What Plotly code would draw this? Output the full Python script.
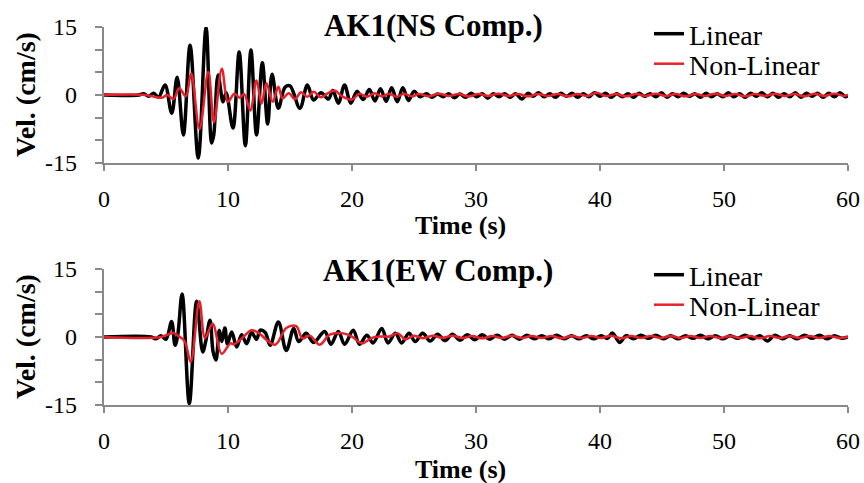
import plotly.graph_objects as go

# ---------------- data ----------------
NS_LIN_T = [0, 2.8, 3.2, 3.6, 4.0, 4.4, 4.92, 5.46, 5.9, 6.4, 6.94, 7.6, 8.23, 8.68, 8.85, 9.2, 9.6, 9.85,
            10.4, 10.9, 11.4, 11.85, 12.3, 12.77, 13.2, 13.55, 14.06, 14.6, 15.0, 15.8, 16.4, 16.9, 17.5,
            18.1, 18.45, 18.9, 19.4, 19.9, 20.4, 20.9, 21.4, 21.85, 22.3, 22.75, 23.2, 23.65, 24.1, 24.55,
            25.0, 25.5, 26.0, 26.45, 26.9, 27.35, 27.8, 28.25, 28.7, 29.15, 29.6, 30.05, 30.5, 30.95,
            31.4, 31.85, 32.3, 32.75, 33.2, 33.7, 34.2, 34.6, 35.05, 35.5, 35.95, 36.4, 36.85, 37.3,
            37.75, 38.2, 38.65, 39.1, 39.55, 40.0, 40.45, 40.9, 41.35, 41.8, 42.25, 42.7, 43.15, 43.6,
            44.05, 44.5, 44.95, 45.4, 45.85, 46.3, 46.75, 47.2, 47.65, 48.1, 48.55, 49.0, 49.45, 49.9,
            50.35, 50.8, 51.25, 51.7, 52.15, 52.6, 53.05, 53.5, 53.95, 54.4, 54.85, 55.3, 55.75, 56.2,
            56.65, 57.1, 57.55, 58.0, 58.45, 58.9, 59.35, 59.8, 60.0]
NS_LIN_V = [0, 0, 0.3, -0.3, 0.4, -0.5, 2.2, -4.0, 3.9, -8.8, 11.0, -13.9, 14.9, -10.6, -8.8, 4.4, -1.5, 0.5,
            -7.3, 9.5, -11.2, 9.9, -8.8, 7.1, -6.4, 4.6, -2.9, 1.7, 2.0, -2.9, 2.2, -1.1, 0.5,
            -0.9, 1.0, -1.8, 2.2, -1.8, 0.8, -1.0, 1.2, -1.3, 1.4, -1.4, 1.6, -1.5, 1.6, -1.2,
            0.8, -0.4, 0.3, -0.5, 0.2, -0.4, 0.3, -0.6, 0.2, -0.5, 0.4, -0.4, 0.3, -0.7,
            0.3, -0.4, 0.3, -0.5, 0.3, -0.9, 0.4, -0.3, 0.5, -0.4, 0.3, -0.5, 0.4, -0.3,
            0.4, -0.5, 0.3, -0.4, 0.5, -0.3, 0.4, -0.5, 0.3, -0.4, 0.3, -0.5, 0.4, -0.3,
            0.3, -0.4, 0.5, -0.5, 0.3, -0.4, 0.4, -0.3, 0.3, -0.5, 0.4, -0.4, 0.3, -0.4,
            0.5, -0.4, 0.3, -0.5, 0.4, -0.3, 0.5, -0.4, 0.4, -0.5, 0.3, -0.4, 0.5, -0.5,
            0.4, -0.3, 0.4, -0.5, 0.4, -0.4, 0.5, -0.4, 0.0]

NS_NL_T = [0, 3.3, 4.65, 5.1, 5.6, 6.07, 6.6, 7.03, 7.7, 8.41, 8.87, 9.5, 10.0, 10.5, 10.95, 11.3, 11.8,
           12.3, 12.7, 13.1, 13.6, 14.06, 14.4, 14.9, 15.4, 15.9, 16.4, 16.9, 17.5, 18.0, 18.6, 19.2,
           20.0, 20.6, 21.2, 21.8, 22.4, 23.0, 23.6, 24.2, 24.8, 25.4, 26.2, 27.0, 27.8, 28.6, 29.4,
           30.2, 31.0, 31.8, 32.6, 33.4, 34.2, 35.0, 35.8, 36.6, 37.4, 38.2, 39.0, 39.7, 40.5, 41.3,
           42.1, 42.9, 43.7, 44.5, 45.3, 46.1, 46.9, 47.7, 48.5, 49.3, 50.1, 50.9, 51.7, 52.5, 53.3,
           54.1, 54.9, 55.7, 56.5, 57.3, 58.1, 58.9, 59.7, 60.0]
NS_NL_V = [0, 0, -0.6, 0.0, -0.9, 1.5, -0.3, 4.8, -7.5, 5.1, -6.0, 5.8, -1.5, 0.3, -0.6, 0.2, -3.4,
           3.2, -1.9, 2.6, -1.5, 1.8, -0.8, 0.4, -0.9, 0.6, -0.4, 0.7, -0.5, 0.3, 1.0, -0.3,
           -1.0, 0.3, -0.4, 0.4, -0.3, 0.3, -0.4, 0.3, -0.3, 0.2, -0.3, 0.3, -0.2, 0.2, -0.3,
           0.2, -0.2, 0.3, -0.2, 0.2, -0.3, 0.2, -0.2, 0.2, -0.3, 0.2, -0.2, 0.5, -0.2, 0.2,
           -0.3, 0.2, -0.2, 0.3, -0.2, 0.2, -0.3, 0.2, -0.2, 0.3, -0.2, 0.2, -0.3, 0.2, -0.2,
           0.3, -0.2, 0.2, -0.3, 0.3, -0.2, 0.3, -0.2, 0.0]

EW_LIN_T = [0, 3.8, 4.2, 4.6, 5.0, 5.45, 5.73, 5.95, 6.3, 6.88, 7.47, 7.96, 8.2, 8.55, 8.8, 9.03, 9.3,
            9.5, 9.75, 9.95, 10.3, 10.7, 11.1, 11.5, 11.9, 12.3, 12.6, 13.0, 13.4, 14.06, 14.7, 15.3,
            15.7, 16.3, 16.9, 17.8, 18.3, 18.9, 19.4, 20.1, 20.6, 21.2, 21.7, 22.4, 22.9, 23.5, 24.0,
            24.6, 25.1, 25.7, 26.3, 26.9, 27.5, 28.1, 28.7, 29.3, 29.9, 30.5, 31.1, 31.7, 32.3, 32.9,
            33.5, 34.1, 34.7, 35.3, 35.9, 36.5, 37.1, 37.7, 38.3, 38.9, 39.5, 40.1, 40.6, 41.0, 41.6,
            42.1, 42.7, 43.3, 43.9, 44.5, 45.1, 45.7, 46.3, 46.9, 47.5, 48.1, 48.7, 49.3, 49.9, 50.5,
            51.1, 51.7, 52.3, 52.9, 53.5, 54.1, 54.7, 55.3, 55.9, 56.5, 57.1, 57.7, 58.3, 58.9, 59.5, 60.0]
EW_LIN_V = [0, 0, -0.4, 0.3, -0.5, 3.4, -1.8, 0.5, 9.5, -14.7, 7.9, -3.3, -1.0, 3.7, -3.3, -5.1, 1.5,
            -1.0, 2.0, -1.5, 1.1, -2.2, 0.5, -1.5, 1.0, -0.5, 1.5, 1.0, -1.8, 3.3, -3.0, 1.9,
            -1.0, 0.8, -1.2, 1.2, -1.6, 1.2, -1.6, 1.5, -1.6, 0.4, -1.3, 1.9, -1.3, 0.8, -1.3,
            0.8, -1.0, 0.8, -0.9, 0.6, -0.8, 0.6, -0.7, 0.5, -0.6, 0.5, -0.5, 0.4, -0.5, 0.4,
            -0.5, 0.4, -0.4, 0.3, -0.4, 0.4, -0.4, 0.3, -0.4, 0.3, -0.4, 0.3, -0.3, 0.9, -1.2,
            0.3, -0.4, 0.4, -0.3, 0.4, -0.4, 0.3, -0.4, 0.3, -0.3, 0.4, -0.4, 0.3, -0.4, 0.3,
            -0.3, 0.4, -0.4, 0.3, -0.9, 0.4, -0.4, 0.3, -0.4, 0.4, -0.3, 0.4, -0.4, 0.3, -0.3, 0.0]

EW_NL_T = [0, 4.6, 5.6, 6.0, 6.5, 6.99, 7.69, 8.15, 8.76, 9.49, 10.2, 10.5, 11.0, 11.9, 12.4, 13.8,
           14.7, 15.5, 16.0, 16.6, 17.4, 18.2, 19.3, 20.0, 20.8, 21.6, 22.3, 23.0, 23.7, 24.3, 25.0,
           25.7, 26.5, 27.3, 28.1, 28.9, 29.7, 30.5, 31.3, 32.1, 32.9, 33.7, 34.5, 35.3, 36.1, 36.9,
           37.7, 38.5, 39.3, 40.1, 40.9, 41.7, 42.5, 43.3, 44.1, 44.9, 45.7, 46.5, 47.3, 48.1, 48.9,
           49.7, 50.5, 51.3, 52.1, 52.9, 53.7, 54.5, 55.3, 56.1, 56.9, 57.7, 58.5, 59.3, 60.0]
EW_NL_V = [0, 0, 0.9, 0.2, -0.9, -5.5, 7.9, -0.2, 2.9, -3.7, -1.4, -1.6, -0.6, 1.5, 1.0, -1.7,
           2.0, 2.4, -0.3, 0.3, -1.7, 0.5, 0.8, 0.1, -1.4, -0.2, 0.1, 0.1, 0.8, -0.5, 0.3,
           -0.3, 0.3, -0.2, 0.3, -0.2, 0.2, -0.3, 0.2, -0.2, 0.3, -0.2, 0.2, -0.2, 0.2, -0.3,
           0.2, -0.2, 0.2, -0.2, 0.3, -0.3, 0.2, -0.2, 0.2, -0.2, 0.2, -0.2, 0.2, -0.2, 0.2,
           -0.2, 0.2, -0.2, 0.2, -0.3, 0.2, -0.2, 0.2, -0.2, 0.2, -0.2, 0.2, -0.2, 0.0]

Y_TICKS = [-15, -10, -5, 0, 5, 10, 15]
Y_LABELS = [-15, 0, 15]
X_TICKS = [0, 10, 20, 30, 40, 50, 60]
TITLES = ["AK1(NS Comp.)", "AK1(EW Comp.)"]
NAMES = ["Linear", "Non-Linear"]

# ---------------- styling ----------------
W, H = 864, 483
FONT = "Liberation Serif"
BLACK = "#000000"
RED = "#E8202A"
AX = "#898989"


def px(x):
    return x / W


def py(y):
    return 1 - y / H


fig = go.Figure()

panels = [
    (NS_LIN_T, NS_LIN_V, NS_NL_T, NS_NL_V, "x", "y", "legend", "legend2"),
    (EW_LIN_T, EW_LIN_V, EW_NL_T, EW_NL_V, "x2", "y2", "legend3", "legend4"),
]
for lt, lv, nt, nv, xa, ya, lg1, lg2 in panels:
    fig.add_trace(go.Scatter(x=lt, y=lv, mode="lines", name=NAMES[0], xaxis=xa, yaxis=ya, legend=lg1,
                             line=dict(color=BLACK, width=3.5, shape="spline", smoothing=1.0)))
    fig.add_trace(go.Scatter(x=nt, y=nv, mode="lines", name=NAMES[1], xaxis=xa, yaxis=ya, legend=lg2,
                             line=dict(color=RED, width=2.5, shape="spline", smoothing=1.0)))

xdom = [px(104), px(848)]
ydoms = [[py(163), py(27)], [py(405), py(269)]]

common_x = dict(range=[0, 60], tickvals=X_TICKS, showline=True, linecolor=AX, linewidth=2,
                ticks="outside", ticklen=6, tickwidth=2, tickcolor=AX, showgrid=False, zeroline=False,
                tickfont=dict(family=FONT, size=24, color="#000"), ticklabelstandoff=7)
common_y = dict(range=[-15, 15], tickvals=Y_TICKS, showticklabels=False, showline=True, linecolor=AX,
                linewidth=2, ticks="outside", ticklen=7, tickwidth=2, tickcolor=AX, showgrid=False,
                zeroline=False)


def leg(yline):
    return dict(x=px(649), y=py(yline), xanchor="left", yanchor="middle", bgcolor="rgba(0,0,0,0)",
                font=dict(family=FONT, size=28, color="#000"), itemwidth=30, borderwidth=0)


fig.update_layout(
    width=W, height=H, margin=dict(l=0, r=0, t=0, b=0, autoexpand=False),
    paper_bgcolor="white", plot_bgcolor="white",
    xaxis=dict(domain=xdom, anchor="y", **common_x),
    yaxis=dict(domain=ydoms[0], anchor="x", **common_y),
    xaxis2=dict(domain=xdom, anchor="y2", **common_x),
    yaxis2=dict(domain=ydoms[1], anchor="x2", **common_y),
    legend=leg(34), legend2=leg(64), legend3=leg(275), legend4=leg(305),
    showlegend=True,
)

ann = []
# y tick labels, placed at their tick values on each y axis
for yref in ["y", "y2"]:
    for v in Y_LABELS:
        ann.append(dict(text=str(v), x=px(79), y=v, xref="paper", yref=yref, showarrow=False,
                        xanchor="right", yanchor="middle",
                        font=dict(family=FONT, size=24, color="#000")))
for title, tx, ty in zip(TITLES, [434, 438], [26, 270]):
    ann.append(dict(text="<b>%s</b>" % title, x=px(tx), y=py(ty), xref="paper", yref="paper",
                    showarrow=False, xanchor="center", yanchor="middle",
                    font=dict(family=FONT, size=31, color="#000")))
for ty in [226, 469]:
    ann.append(dict(text="<b>Time (s)</b>", x=px(461), y=py(ty), xref="paper", yref="paper",
                    showarrow=False, xanchor="center", yanchor="middle",
                    font=dict(family=FONT, size=26, color="#000")))
for ty in [95, 337]:
    ann.append(dict(text="<b>Vel. (cm/s)</b>", x=px(25), y=py(ty), xref="paper", yref="paper",
                    showarrow=False, xanchor="center", yanchor="middle", textangle=-90,
                    font=dict(family=FONT, size=28, color="#000")))
fig.update_layout(annotations=ann)

fig.write_html("out.html")
